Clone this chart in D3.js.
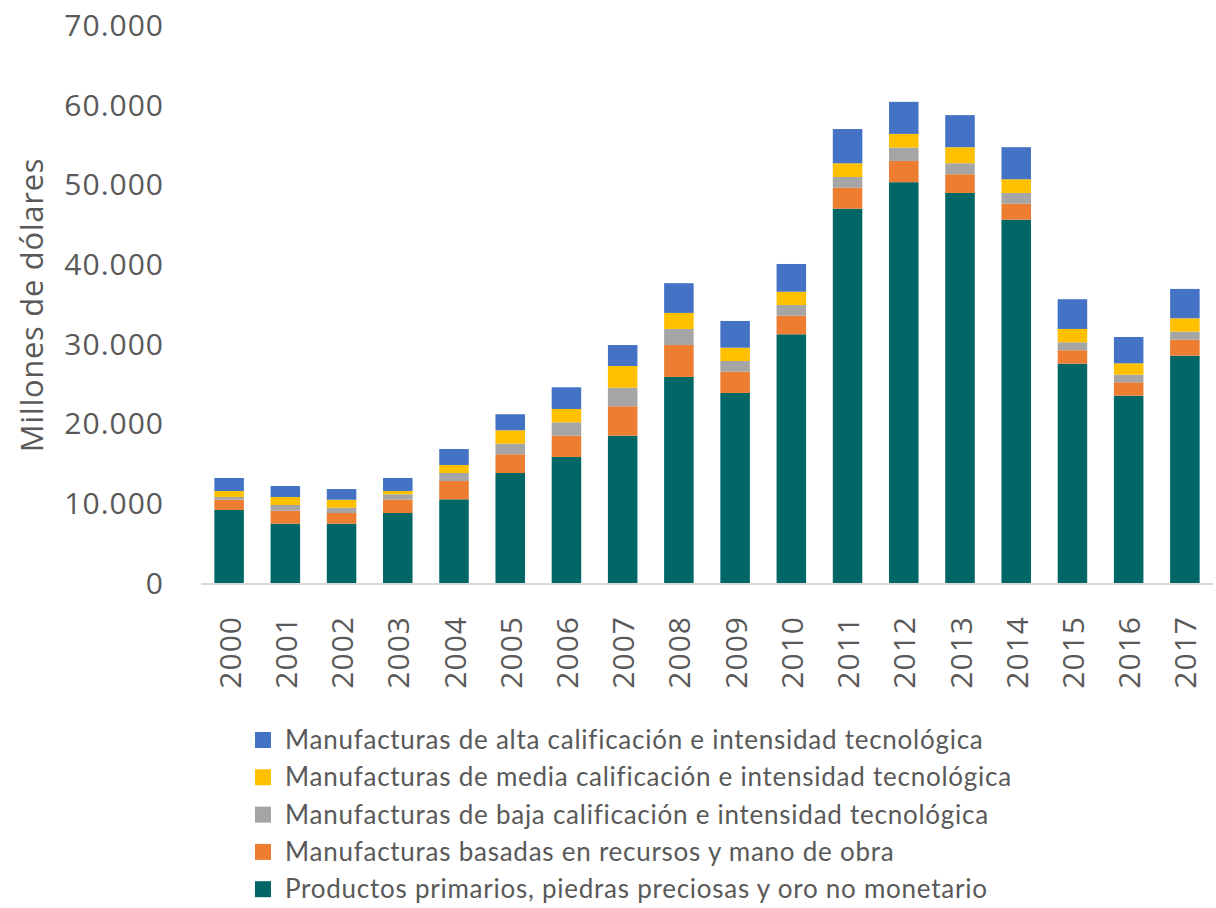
<!DOCTYPE html>
<html>
<head>
<meta charset="utf-8">
<script src="https://cdn.jsdelivr.net/npm/d3@7"></script>
<style>
  html, body { margin: 0; padding: 0; background: #fff; }
</style>
</head>
<body>
<svg id="viz"></svg>
<script>
const years = ["2000","2001","2002","2003","2004","2005","2006","2007","2008",
  "2009","2010","2011","2012","2013","2014","2015","2016","2017"];

// millones de dólares
const primarios = [9160, 7440, 7440, 8780, 10500, 13800, 15810, 18480, 25850, 23840, 31200, 46960, 50280, 48930, 45580, 27520, 23500, 28520];
const basadas   = [1290, 1630, 1340, 1670, 2300, 2350, 2670, 3690, 4010, 2670, 2330, 2630, 2670, 2350, 2010, 1680, 1680, 2010];
const baja      = [340, 715, 665, 680, 1000, 1330, 1680, 2330, 2010, 1340, 1340, 1340, 1670, 1380, 1340, 1000, 950, 1000];
const media     = [750, 1000, 1000, 415, 1000, 1680, 1670, 2720, 2010, 1670, 1670, 1720, 1720, 2010, 1720, 1670, 1430, 1680];
const alta      = [1630, 1380, 1340, 1630, 2010, 2010, 2720, 2630, 3730, 3350, 3480, 4300, 4020, 4020, 4020, 3730, 3300, 3680];

const seriesNames = [
  "Productos primarios, piedras preciosas y oro no monetario",
  "Manufacturas basadas en recursos y mano de obra",
  "Manufacturas de baja calificación e intensidad tecnológica",
  "Manufacturas de media calificación e intensidad tecnológica",
  "Manufacturas de alta calificación e intensidad tecnológica"
];
const seriesValues = [primarios, basadas, baja, media, alta];
const seriesColors = ["#006666", "#ED7D31", "#A5A5A5", "#FFC000", "#4472C4"];
const yTicks = [0, 10000, 20000, 30000, 40000, 50000, 60000, 70000];

const width = 1216;
const height = 908;

const svg = d3.select("#viz")
  .attr("width", width)
  .attr("height", height);

// --- table for the stack ---
const keys = seriesNames;
const rows = years.map((yr, i) => {
  const r = { year: yr };
  keys.forEach((k, j) => { r[k] = seriesValues[j][i]; });
  return r;
});
const stacked = d3.stack().keys(keys)(rows);

// --- scales ---
const x = d3.scaleBand()
  .domain(years)
  .range([201, 1213])
  .paddingInner(0.475)
  .paddingOuter(0.2375);

const y = d3.scaleLinear()
  .domain([0, 70000])
  .range([583, 25]);

const color = d3.scaleOrdinal().domain(keys).range(seriesColors);

const fmt = d => d3.format(",")(d).replace(/,/g, ".");

// --- bars ---
svg.append("g")
  .selectAll("g")
  .data(stacked)
  .join("g")
  .attr("fill", d => color(d.key))
  .selectAll("rect")
  .data(d => d)
  .join("rect")
  .attr("x", d => x(d.data.year))
  .attr("y", d => y(d[1]))
  .attr("width", x.bandwidth())
  .attr("height", d => y(d[0]) - y(d[1]));

// --- baseline ---
svg.append("line")
  .attr("x1", 201)
  .attr("x2", 1213)
  .attr("y1", y(0) + 1)
  .attr("y2", y(0) + 1)
  .attr("stroke", "#d9d9d9")
  .attr("stroke-width", 2);

// --- y tick labels ---
svg.append("g")
  .selectAll("text")
  .data(yTicks)
  .join("text")
  .attr("x", 164)
  .attr("y", d => y(d))
  .attr("dy", "0.36em")
  .attr("text-anchor", "end")
  .attr("font-family", "Open Sans")
  .attr("font-size", "30px")
  .attr("letter-spacing", "1px")
  .attr("fill", "#595959")
  .text(d => fmt(d));

// --- y axis title ---
svg.append("text")
  .attr("transform", "translate(43,305) rotate(-90)")
  .attr("text-anchor", "middle")
  .attr("font-family", "Open Sans")
  .attr("font-size", "31px")
  .attr("letter-spacing", "0.7px")
  .attr("fill", "#595959")
  .text("Millones de dólares");

// --- x labels (rotated) ---
svg.append("g")
  .selectAll("text")
  .data(years)
  .join("text")
  .attr("transform", d => `translate(${x(d) + x.bandwidth() / 2},616) rotate(-90)`)
  .attr("text-anchor", "end")
  .attr("dominant-baseline", "central")
  .attr("font-family", "Open Sans")
  .attr("font-size", "30px")
  .attr("letter-spacing", "1px")
  .attr("fill", "#595959")
  .text(d => d);

// --- legend ---
const legendOrder = keys.slice().reverse();
const legend = svg.append("g")
  .selectAll("g")
  .data(legendOrder)
  .join("g")
  .attr("transform", (d, i) => `translate(255,${740 + i * 37.3})`);

legend.append("rect")
  .attr("x", 0)
  .attr("y", -8)
  .attr("width", 16)
  .attr("height", 16)
  .attr("fill", d => color(d));

legend.append("text")
  .attr("x", 30)
  .attr("y", 0)
  .attr("dy", "0.35em")
  .attr("font-family", "Lato")
  .attr("font-size", "26px")
  .attr("letter-spacing", "0.75px")
  .attr("fill", "#595959")
  .text(d => d);
</script>
</body>
</html>
